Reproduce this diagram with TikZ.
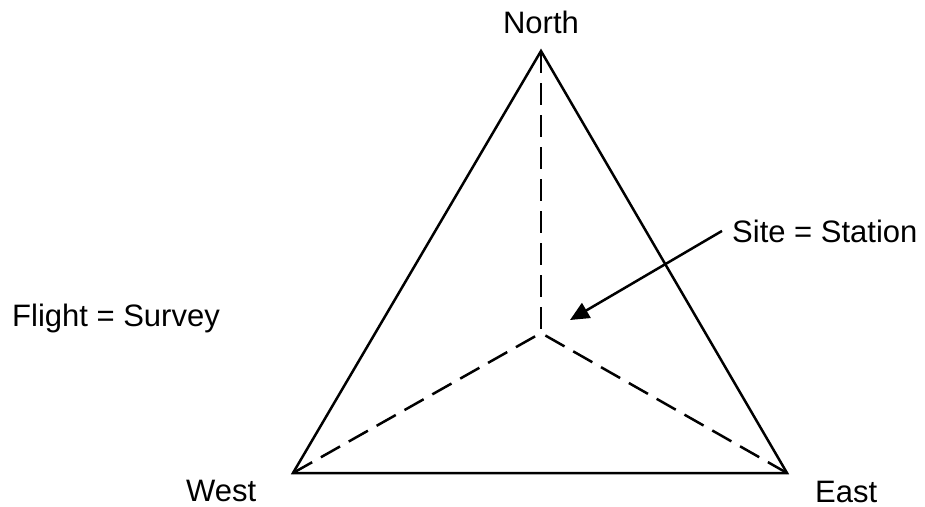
\documentclass[tikz,border=0pt]{standalone}
\usepackage{fontspec}
\setmainfont{Liberation Sans}
\usetikzlibrary{arrows.meta}
\begin{document}
\begin{tikzpicture}[x=1pt,y=-1pt,
  lbl/.style={inner sep=0pt,font=\fontsize{31}{36}\selectfont},
  edge/.style={line width=2.5pt,line join=miter},
  spoke/.style={line width=2.5pt,dash pattern=on 22pt off 10pt},
  pointer/.style={line width=2.5pt,-{Triangle[length=19pt,width=17pt]}}]
\useasboundingbox (0,0) rectangle (925,506);
\coordinate (N) at (541,51);
\coordinate (W) at (293,473);
\coordinate (E) at (787,473);
\coordinate (C) at (541,333);
\coordinate (T) at (570,320);
\draw[edge] (N) -- (W) -- (E) -- cycle;
\draw[spoke] (N) -- (C);
\draw[spoke] (W) -- (C);
\draw[spoke] (E) -- (C);
\node[lbl,anchor=base] (north) at (541,33) {North};
\node[lbl,anchor=base west] (west) at (186,501) {West};
\node[lbl,anchor=base west] (east) at (815,502) {East};
\node[lbl,anchor=base west] (flight) at (12,326) {Flight = Survey};
\node[lbl,inner xsep=10pt,anchor=base west] (site) at (722,242) {Site = Station};
\draw[pointer] (site.west) -- (T);
\end{tikzpicture}
\end{document}
